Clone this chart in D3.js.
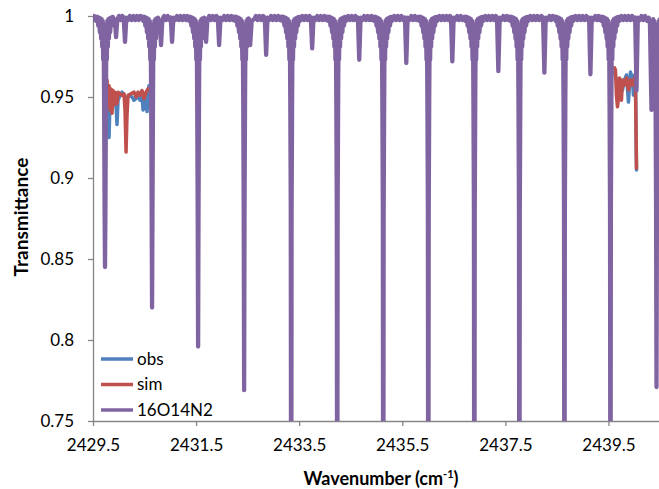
<!DOCTYPE html>
<html><head><meta charset="utf-8">
<script src="https://cdn.jsdelivr.net/npm/d3@7"></script>
<style>body{margin:0;background:#fff}svg{display:block}text{font-family:Lato,"Open Sans",sans-serif;fill:#000}</style>
</head><body><svg id="c" width="659" height="489"></svg>
<script>
// ---- data ----
const xTicks = [2429.5, 2431.5, 2433.5, 2435.5, 2437.5, 2439.5];
const yTicks = [0.75, 0.8, 0.85, 0.9, 0.95, 1];
const yTickLabels = ["0.75", "0.8", "0.85", "0.9", "0.95", "1"];
const seriesNames = ["obs", "sim", "16O14N2"];
const seriesColors = ["#4F81BD", "#C0504D", "#8064A2"];

// obs / sim: two measured windows (null = gap)
const obs = [
 [2429.733,0.951],[2429.772,0.942],[2429.811,0.925],[2429.830,0.948],[2429.850,0.940],[2429.869,0.954],[2429.908,0.948],
 [2429.947,0.945],[2429.966,0.933],[2429.985,0.948],[2430.024,0.951],[2430.063,0.953],[2430.102,0.951],
 [2430.141,0.949],[2430.180,0.950],[2430.218,0.951],[2430.257,0.950],[2430.296,0.948],[2430.335,0.949],
 [2430.374,0.951],[2430.413,0.948],[2430.451,0.951],[2430.471,0.942],[2430.490,0.948],[2430.510,0.943],[2430.529,0.950],[2430.549,0.941],
 [2430.568,0.954],[2430.587,0.957],[2430.626,0.954],
 null,
 [2439.617,0.9654],[2439.655,0.9605],[2439.694,0.9574],[2439.733,0.9605],[2439.772,0.9543],[2439.811,0.9605],
 [2439.850,0.9636],[2439.888,0.9469],[2439.908,0.9574],[2439.927,0.9654],[2439.966,0.9605],[2439.985,0.9512],
 [2440.005,0.9636],[2440.024,0.9605],[2440.044,0.9049]
];
const sim = [
 [2429.772,0.9605],[2429.791,0.948],[2429.811,0.957],[2429.830,0.942],[2429.850,0.955],[2429.869,0.940],
 [2429.888,0.954],[2429.908,0.945],[2429.927,0.953],[2429.966,0.946],[2429.985,0.953],[2430.024,0.952],[2430.063,0.951],
 [2430.102,0.952],[2430.121,0.942],[2430.141,0.916],[2430.160,0.939],[2430.180,0.951],[2430.238,0.952],
 [2430.296,0.953],[2430.335,0.950],[2430.374,0.953],[2430.413,0.951],[2430.451,0.954],[2430.490,0.949],
 [2430.529,0.953],[2430.568,0.955],[2430.607,0.954],
 null,
 [2439.617,0.968],[2439.636,0.9667],[2439.655,0.951],[2439.675,0.944],[2439.694,0.949],[2439.714,0.9617],
 [2439.733,0.9574],[2439.752,0.948],[2439.772,0.9605],[2439.811,0.9574],[2439.850,0.9617],[2439.888,0.9543],
 [2439.927,0.9605],[2439.966,0.9574],[2440.005,0.9617],[2440.024,0.9574],[2440.044,0.906]
];
// 16O14N2 simulated transmittance
const n2o = [
 [2429.480,1.000],[2429.500,0.9975],[2429.520,1.000],
 [2429.543,.9995],[2429.563,.997],[2429.583,.9995],[2429.603,.994],[2429.618,.999],[2429.633,.990],[2429.645,.9985],[2429.658,.986],[2429.668,.998],[2429.678,.981],[2429.688,.997],[2429.698,.973],[2429.706,.995],[2429.715,.950],[2429.725,.880],[2429.733,.845],[2429.741,.880],[2429.751,.950],[2429.760,.995],[2429.768,.973],[2429.778,.997],[2429.788,.981],[2429.798,.998],[2429.808,.986],[2429.821,.9985],[2429.833,.990],[2429.848,.999],[2429.863,.994],[2429.883,.9995],[2429.903,.997],
 [2429.925,.998],[2429.947,.987],[2429.972,.998],
 [2430.005,1.000],[2430.040,0.9975],[2430.070,1.000],
 [2430.095,0.999],[2430.121,0.984],[2430.147,0.999],
 [2430.180,0.9975],[2430.215,1.000],[2430.250,0.9975],[2430.285,1.000],[2430.320,0.9975],[2430.355,1.000],[2430.390,0.9975],[2430.420,1.000],
 [2430.456,.9995],[2430.476,.997],[2430.496,.9995],[2430.516,.994],[2430.531,.999],[2430.546,.990],[2430.558,.9985],[2430.571,.986],[2430.581,.998],[2430.591,.981],[2430.601,.997],[2430.611,.973],[2430.619,.995],[2430.628,.950],[2430.638,.880],[2430.646,.820],[2430.654,.880],[2430.664,.950],[2430.673,.995],[2430.681,.973],[2430.691,.997],[2430.701,.981],[2430.711,.998],[2430.721,.986],[2430.734,.9985],[2430.746,.990],[2430.761,.999],[2430.776,.994],
 [2430.800,0.994],[2430.820,0.982],[2430.846,0.998],
 [2430.880,1.000],[2430.915,0.9975],[2430.950,1.000],[2430.980,0.9975],
 [2431.008,0.999],[2431.034,0.984],[2431.060,0.999],
 [2431.095,0.9975],[2431.130,1.000],[2431.165,0.9975],[2431.200,1.000],[2431.235,0.9975],[2431.270,1.000],[2431.305,0.9975],[2431.330,1.000],
 [2431.349,.9995],[2431.369,.997],[2431.389,.9995],[2431.409,.994],[2431.424,.999],[2431.439,.990],[2431.451,.9985],[2431.464,.986],[2431.474,.998],[2431.484,.981],[2431.494,.997],[2431.504,.973],[2431.512,.995],[2431.521,.950],[2431.531,.880],[2431.539,.796],[2431.547,.880],[2431.557,.950],[2431.566,.995],[2431.574,.973],[2431.584,.997],[2431.594,.981],[2431.604,.998],[2431.614,.986],[2431.627,.9985],[2431.639,.990],[2431.654,.999],[2431.669,.994],
 [2431.694,0.984],[2431.720,0.998],
 [2431.755,1.000],[2431.790,0.9975],[2431.825,1.000],[2431.860,0.9975],[2431.895,1.000],
 [2431.921,0.999],[2431.947,0.982],[2431.973,0.999],
 [2432.010,0.9975],[2432.045,1.000],[2432.080,0.9975],[2432.115,1.000],[2432.150,0.9975],[2432.185,1.000],[2432.215,0.9975],
 [2432.242,.9995],[2432.262,.997],[2432.282,.9995],[2432.302,.994],[2432.317,.999],[2432.332,.990],[2432.344,.9985],[2432.357,.986],[2432.367,.998],[2432.377,.981],[2432.387,.997],[2432.397,.973],[2432.405,.995],[2432.414,.950],[2432.424,.880],[2432.432,.769],[2432.440,.880],[2432.450,.950],[2432.459,.995],[2432.467,.973],[2432.477,.997],[2432.487,.981],[2432.497,.998],[2432.507,.986],[2432.520,.9985],[2432.532,.990],
 [2432.549,0.982],[2432.579,0.997],[2432.625,0.998],
 [2432.660,1.000],[2432.695,0.9975],[2432.730,1.000],[2432.765,0.9975],[2432.800,1.000],
 [2432.833,0.999],[2432.859,0.976],[2432.885,0.999],
 [2432.920,0.9975],[2432.955,1.000],[2432.990,0.9975],[2433.025,1.000],[2433.060,0.9975],[2433.095,1.000],[2433.125,0.9975],
 [2433.155,.9995],[2433.175,.997],[2433.195,.9995],[2433.215,.994],[2433.230,.999],[2433.245,.990],[2433.257,.9985],[2433.270,.986],[2433.280,.998],[2433.290,.981],[2433.300,.997],[2433.310,.973],[2433.318,.995],[2433.327,.950],[2433.337,.880],[2433.345,.600],[2433.353,.880],[2433.363,.950],[2433.372,.995],[2433.380,.973],[2433.390,.997],[2433.400,.981],[2433.410,.998],[2433.420,.986],[2433.433,.9985],[2433.445,.990],[2433.460,.999],[2433.475,.994],[2433.495,.9995],[2433.515,.997],[2433.535,.9995],
 [2433.560,1.000],[2433.595,0.9975],[2433.630,1.000],[2433.665,0.9975],[2433.700,1.000],
 [2433.726,0.999],[2433.752,0.980],[2433.778,0.999],
 [2433.815,0.9975],[2433.850,1.000],[2433.885,0.9975],[2433.920,1.000],[2433.955,0.9975],[2433.990,1.000],[2434.020,0.9975],
 [2434.048,.9995],[2434.068,.997],[2434.088,.9995],[2434.108,.994],[2434.123,.999],[2434.138,.990],[2434.150,.9985],[2434.163,.986],[2434.173,.998],[2434.183,.981],[2434.193,.997],[2434.203,.973],[2434.211,.995],[2434.220,.950],[2434.230,.880],[2434.238,.600],[2434.246,.880],[2434.256,.950],[2434.265,.995],[2434.273,.973],[2434.283,.997],[2434.293,.981],[2434.303,.998],[2434.313,.986],[2434.326,.9985],[2434.338,.990],[2434.353,.999],[2434.368,.994],[2434.388,.9995],[2434.408,.997],[2434.428,.9995],
 [2434.450,1.000],[2434.485,0.9975],[2434.520,1.000],[2434.555,0.9975],[2434.590,1.000],[2434.615,0.9975],
 [2434.639,0.999],[2434.665,0.973],[2434.691,0.999],
 [2434.725,0.9975],[2434.760,1.000],[2434.795,0.9975],[2434.830,1.000],[2434.865,0.9975],[2434.900,1.000],[2434.920,0.9975],
 [2434.941,.9995],[2434.961,.997],[2434.981,.9995],[2435.001,.994],[2435.016,.999],[2435.031,.990],[2435.043,.9985],[2435.056,.986],[2435.066,.998],[2435.076,.981],[2435.086,.997],[2435.096,.973],[2435.104,.995],[2435.113,.950],[2435.123,.880],[2435.131,.600],[2435.139,.880],[2435.149,.950],[2435.158,.995],[2435.166,.973],[2435.176,.997],[2435.186,.981],[2435.196,.998],[2435.206,.986],[2435.219,.9985],[2435.231,.990],[2435.246,.999],[2435.261,.994],[2435.281,.9995],[2435.301,.997],[2435.321,.9995],
 [2435.345,1.000],[2435.380,0.9975],[2435.415,1.000],[2435.450,0.9975],[2435.485,1.000],[2435.520,0.9975],
 [2435.552,0.999],[2435.578,0.971],[2435.604,0.999],
 [2435.640,0.9975],[2435.675,1.000],[2435.710,0.9975],[2435.745,1.000],[2435.775,0.9975],
 [2435.815,.9995],[2435.835,.997],[2435.855,.9995],[2435.875,.994],[2435.890,.999],[2435.905,.990],[2435.917,.9985],[2435.930,.986],[2435.940,.998],[2435.950,.981],[2435.960,.997],[2435.970,.973],[2435.978,.995],[2435.987,.950],[2435.997,.880],[2436.005,.600],[2436.013,.880],[2436.023,.950],[2436.032,.995],[2436.040,.973],[2436.050,.997],[2436.060,.981],[2436.070,.998],[2436.080,.986],[2436.093,.9985],[2436.105,.990],[2436.120,.999],[2436.135,.994],[2436.155,.9995],[2436.175,.997],[2436.195,.9995],
 [2436.220,1.000],[2436.255,0.9975],[2436.290,1.000],[2436.325,0.9975],[2436.360,1.000],[2436.395,0.9975],[2436.425,1.000],
 [2436.445,0.999],[2436.471,0.972],[2436.497,0.999],
 [2436.530,0.9975],[2436.565,1.000],[2436.600,0.9975],[2436.635,1.000],[2436.670,0.9975],
 [2436.708,.9995],[2436.728,.997],[2436.748,.9995],[2436.768,.994],[2436.783,.999],[2436.798,.990],[2436.810,.9985],[2436.823,.986],[2436.833,.998],[2436.843,.981],[2436.853,.997],[2436.863,.973],[2436.871,.995],[2436.880,.950],[2436.890,.880],[2436.898,.600],[2436.906,.880],[2436.916,.950],[2436.925,.995],[2436.933,.973],[2436.943,.997],[2436.953,.981],[2436.963,.998],[2436.973,.986],[2436.986,.9985],[2436.998,.990],[2437.013,.999],[2437.028,.994],[2437.048,.9995],[2437.068,.997],[2437.088,.9995],
 [2437.110,1.000],[2437.145,0.9975],[2437.180,1.000],[2437.215,0.9975],[2437.250,1.000],[2437.285,0.9975],[2437.315,1.000],
 [2437.338,0.999],[2437.364,0.966],[2437.390,0.999],
 [2437.425,0.9975],[2437.460,1.000],[2437.495,0.9975],[2437.530,1.000],[2437.560,0.9975],
 [2437.582,.9995],[2437.602,.997],[2437.622,.9995],[2437.642,.994],[2437.657,.999],[2437.672,.990],[2437.684,.9985],[2437.697,.986],[2437.707,.998],[2437.717,.981],[2437.727,.997],[2437.737,.973],[2437.745,.995],[2437.754,.950],[2437.764,.880],[2437.772,.600],[2437.780,.880],[2437.790,.950],[2437.799,.995],[2437.807,.973],[2437.817,.997],[2437.827,.981],[2437.837,.998],[2437.847,.986],[2437.860,.9985],[2437.872,.990],[2437.887,.999],[2437.902,.994],[2437.922,.9995],[2437.942,.997],[2437.962,.9995],
 [2437.985,1.000],[2438.020,0.9975],[2438.055,1.000],[2438.090,0.9975],[2438.125,1.000],[2438.160,0.9975],[2438.200,1.000],
 [2438.231,0.999],[2438.257,0.965],[2438.283,0.999],
 [2438.320,0.9975],[2438.355,1.000],[2438.390,0.9975],[2438.420,1.000],
 [2438.456,.9995],[2438.476,.997],[2438.496,.9995],[2438.516,.994],[2438.531,.999],[2438.546,.990],[2438.558,.9985],[2438.571,.986],[2438.581,.998],[2438.591,.981],[2438.601,.997],[2438.611,.973],[2438.619,.995],[2438.628,.950],[2438.638,.880],[2438.646,.600],[2438.654,.880],[2438.664,.950],[2438.673,.995],[2438.681,.973],[2438.691,.997],[2438.701,.981],[2438.711,.998],[2438.721,.986],[2438.734,.9985],[2438.746,.990],[2438.761,.999],[2438.776,.994],[2438.796,.9995],[2438.816,.997],[2438.836,.9995],
 [2438.860,1.000],[2438.895,0.9975],[2438.930,1.000],[2438.965,0.9975],[2439.000,1.000],[2439.035,0.9975],[2439.070,1.000],[2439.100,0.9975],
 [2439.124,0.999],[2439.150,0.964],[2439.176,0.999],
 [2439.210,0.9975],[2439.245,1.000],[2439.280,0.9975],[2439.310,1.000],[2439.330,0.9975],
 [2439.349,.9995],[2439.369,.997],[2439.389,.9995],[2439.409,.994],[2439.424,.999],[2439.439,.990],[2439.451,.9985],[2439.464,.986],[2439.474,.998],[2439.484,.981],[2439.494,.997],[2439.504,.973],[2439.512,.995],[2439.521,.950],[2439.531,.880],[2439.539,.600],[2439.547,.880],[2439.557,.950],[2439.566,.995],[2439.574,.973],[2439.584,.997],[2439.594,.981],[2439.604,.998],[2439.614,.986],[2439.627,.9985],[2439.639,.990],[2439.654,.999],[2439.669,.994],[2439.689,.9995],[2439.709,.997],[2439.729,.9995],
 [2439.750,1.000],[2439.785,0.9975],[2439.820,1.000],[2439.855,0.9975],[2439.890,1.000],[2439.925,0.9975],[2439.960,1.000],[2439.990,0.9975],
 [2440.018,0.999],[2440.044,0.954],[2440.070,0.999],
 [2440.105,0.9975],[2440.140,1.000],[2440.175,0.9975],[2440.210,1.000],[2440.250,0.997],[2440.280,0.999],
 [2440.305,0.995],[2440.335,0.942],[2440.347,0.993],[2440.357,0.986],[2440.367,0.998],[2440.377,0.981],[2440.387,0.997],[2440.397,0.973],[2440.405,0.995],[2440.414,0.950],[2440.424,0.880],[2440.432,0.771],[2440.440,0.880],[2440.450,0.950],[2440.459,0.995],[2440.467,0.973],[2440.477,0.997],[2440.487,0.981],[2440.497,0.998],[2440.507,0.986],[2440.520,0.9985],[2440.532,0.990]
];

// ---- chart ----
const svg = d3.select("#c");
const L = 93, R = 660, T = 16, B = 421;
const x = d3.scaleLinear().domain([2429.5, 2440.5]).range([L, R]);
const y = d3.scaleLinear().domain([0.75, 1]).range([B, T]);
const axisColor = "#868686";

svg.append("defs").append("clipPath").attr("id","clip")
  .append("rect").attr("x", L).attr("y", 0).attr("width", R - L).attr("height", B);

// axes
const xAxis = svg.append("g").attr("transform", `translate(0,${B})`)
  .call(d3.axisBottom(x).tickValues(xTicks).tickFormat(d3.format(".1f")).tickSize(5).tickSizeOuter(0));
const yAxis = svg.append("g").attr("transform", `translate(${L},0)`)
  .call(d3.axisLeft(y).tickValues(yTicks).tickFormat((d,i)=>yTickLabels[i]).tickSize(5).tickSizeOuter(0));
[xAxis, yAxis].forEach(g => {
  g.select(".domain").attr("stroke", axisColor).attr("stroke-width", 1.3);
  g.selectAll(".tick line").attr("stroke", axisColor).attr("stroke-width", 1.3);
  g.selectAll(".tick text").attr("font-size", 17).attr("fill", "#000")
    .style("font-family", "Lato, 'Open Sans', sans-serif");
});
xAxis.selectAll(".tick text").attr("dy", "1.3em");
yAxis.selectAll(".tick text").attr("x", -19);

// series
const line = d3.line().defined(d => d !== null).x(d => x(d[0])).y(d => y(d[1]));
const plot = svg.append("g").attr("clip-path", "url(#clip)");
const data = [obs, sim, n2o];
const widths = [3.5, 3.5, 4.3];
data.forEach((s, i) => {
  plot.append("path").attr("d", line(s)).attr("fill", "none")
    .attr("stroke", seriesColors[i]).attr("stroke-width", widths[i])
    .attr("stroke-linejoin", "round").attr("stroke-linecap", "round");
});

// legend
const lg = svg.append("g");
seriesNames.forEach((n, i) => {
  const ly = 359 + i * 25.5;
  lg.append("line").attr("x1", 101).attr("x2", 133).attr("y1", ly).attr("y2", ly)
    .attr("stroke", seriesColors[i]).attr("stroke-width", 3.5);
  lg.append("text").attr("x", 137).attr("y", ly).attr("dy", "0.35em")
    .attr("font-size", 17).text(n);
});

// axis titles
const xt = svg.append("text").attr("x", 381).attr("y", 485)
  .attr("text-anchor", "middle").attr("font-size", 18).attr("font-weight", "bold");
xt.append("tspan").text("Wavenumber (cm");
xt.append("tspan").attr("font-size", 11).attr("dy", -7).text("-1");
xt.append("tspan").attr("dy", 7).text(")");
svg.append("text").attr("transform", "translate(28,217) rotate(-90)")
  .attr("text-anchor", "middle").attr("font-size", 19).attr("font-weight", "bold").text("Transmittance");
</script></body></html>
